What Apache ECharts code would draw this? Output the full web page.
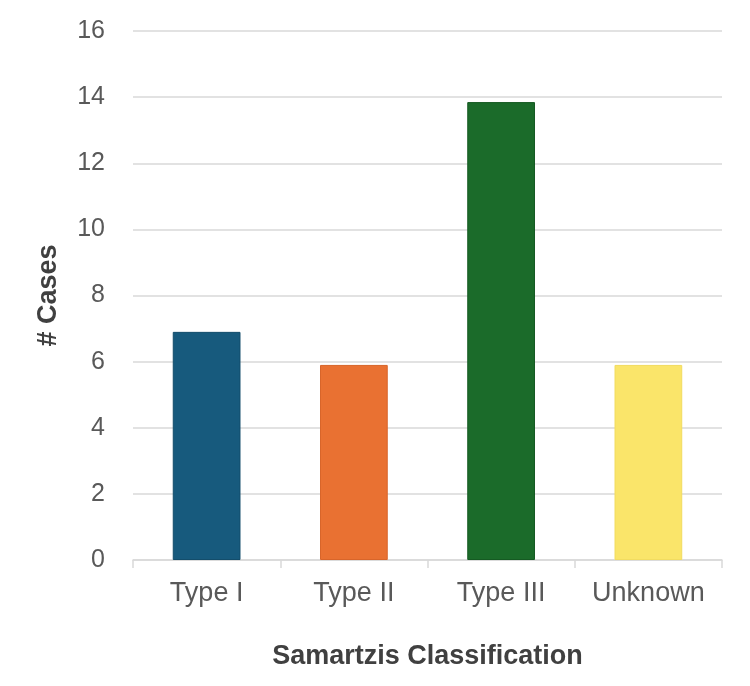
<!DOCTYPE html>
<html>
<head>
<meta charset="utf-8">
<script src="https://cdn.jsdelivr.net/npm/echarts@6/dist/echarts.min.js"></script>
<style>html,body{margin:0;padding:0;background:#fff;}#c{width:750px;height:686px;}</style>
</head>
<body>
<div id="c"></div>
<script>
const categories = ['Type I', 'Type II', 'Type III', 'Unknown'];
const cases = [6.9, 5.9, 13.85, 5.9];
const barColors = ['#175a7d', '#e97132', '#1b6b2a', '#fae56a'];
const borderColors = ['#134d6b', '#d8652a', '#155a22', '#f2dc60'];
const yTicks = { min: 0, max: 16, interval: 2 };

const chart = echarts.init(document.getElementById('c'), null, { renderer: 'canvas' });
const font = '"Liberation Sans", Arial, sans-serif';
chart.setOption({
  animation: false,
  grid: { left: 133, right: 28, top: 31, bottom: 126 },
  xAxis: {
    type: 'category',
    data: categories,
    name: 'Samartzis Classification',
    nameLocation: 'middle',
    nameGap: 97,
    nameTextStyle: { fontFamily: font, fontSize: 27, fontWeight: 'bold', color: '#404040', verticalAlign: 'middle' },
    axisLine: { lineStyle: { color: '#d9d9d9', width: 1.5 } },
    axisTick: { show: true, length: 8, lineStyle: { color: '#d9d9d9', width: 1.5 } },
    axisLabel: { fontFamily: font, fontSize: 27, color: '#595959', margin: 20 }
  },
  yAxis: {
    type: 'value',
    min: yTicks.min, max: yTicks.max, interval: yTicks.interval,
    name: '# Cases',
    nameLocation: 'middle',
    nameGap: 84,
    nameTextStyle: { fontFamily: font, fontSize: 27, fontWeight: 'bold', color: '#404040', verticalAlign: 'middle' },
    axisLine: { show: false },
    axisTick: { show: false },
    splitLine: { lineStyle: { color: '#d9d9d9', width: 1.5 } },
    axisLabel: { fontFamily: font, fontSize: 25, color: '#595959', margin: 28 }
  },
  series: [{
    type: 'bar',
    barWidth: '46%',
    data: cases.map((v, i) => ({
      value: v,
      itemStyle: { color: barColors[i], borderColor: borderColors[i], borderWidth: 1 }
    }))
  }]
});
</script>
</body>
</html>
